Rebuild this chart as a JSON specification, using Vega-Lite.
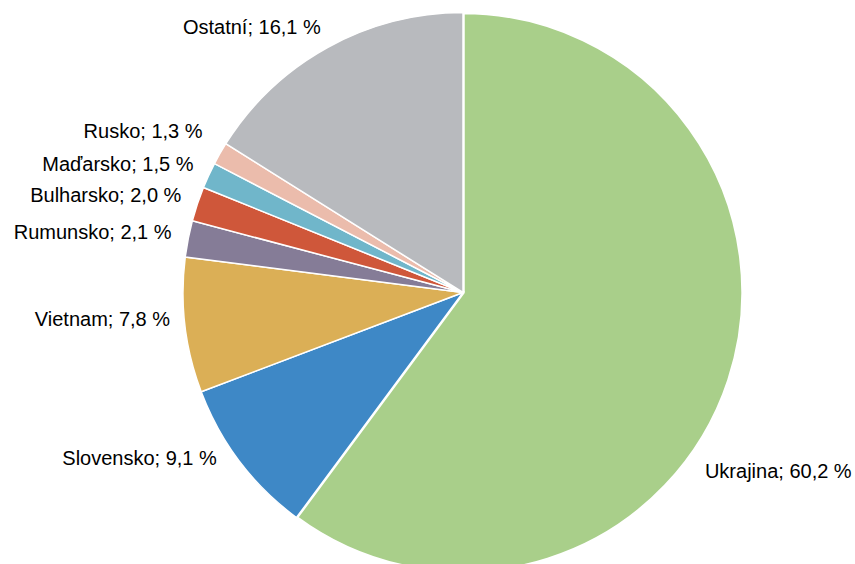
{
  "$schema": "https://vega.github.io/schema/vega-lite/v6.json",
  "autosize": {"type": "none"},
  "width": 784,
  "height": 543,
  "padding": {"left": 71, "right": 0, "top": 21, "bottom": 0},
  "background": "white",
  "view": {"stroke": null},
  "data": {
    "values": [
      {"ord": 1, "country": "Ukrajina", "value": 60.2, "label": "Ukrajina; 60,2 %"},
      {"ord": 2, "country": "Slovensko", "value": 9.1, "label": "Slovensko; 9,1 %"},
      {"ord": 3, "country": "Vietnam", "value": 7.8, "label": "Vietnam; 7,8 %"},
      {"ord": 4, "country": "Rumunsko", "value": 2.1, "label": "Rumunsko; 2,1 %"},
      {"ord": 5, "country": "Bulharsko", "value": 2.0, "label": "Bulharsko; 2,0 %"},
      {"ord": 6, "country": "Maďarsko", "value": 1.5, "label": "Maďarsko; 1,5 %"},
      {"ord": 7, "country": "Rusko", "value": 1.3, "label": "Rusko; 1,3 %"},
      {"ord": 8, "country": "Ostatní", "value": 16.1, "label": "Ostatní; 16,1 %"}
    ]
  },
  "encoding": {
    "theta": {"field": "value", "type": "quantitative", "stack": true},
    "order": {"field": "ord", "type": "quantitative"}
  },
  "layer": [
    {
      "mark": {"type": "arc", "outerRadius": 280, "stroke": "white"},
      "encoding": {
        "color": {
          "field": "country",
          "type": "nominal",
          "sort": null,
          "legend": null,
          "scale": {
            "domain": ["Ukrajina", "Slovensko", "Vietnam", "Rumunsko", "Bulharsko", "Maďarsko", "Rusko", "Ostatní"],
            "range": ["#a9cf8a", "#3e88c6", "#dbaf56", "#857c97", "#cf573a", "#70b6ca", "#ebbcac", "#b8babe"]
          }
        },
        "strokeWidth": {"condition": {"test": "datum.country === 'Ukrajina'", "value": 3.5}, "value": 1.5}
      }
    },
    {
      "mark": {"type": "text", "radius": 300, "align": "right", "baseline": "middle", "dx": 3, "dy": -2, "font": "Liberation Sans", "fontSize": 20, "color": "#000000"},
      "encoding": {
        "text": {"condition": {"test": "indexof(['Ukrajina','Rusko','Vietnam','Slovensko'], datum.country) >= 0", "value": ""}, "field": "label", "type": "nominal"}
      }
    },
    {
      "mark": {"type": "text", "radius": 300, "align": "right", "baseline": "middle", "dy": -12, "font": "Liberation Sans", "fontSize": 20, "color": "#000000"},
      "encoding": {
        "text": {"condition": {"test": "datum.country !== 'Rusko'", "value": ""}, "field": "label", "type": "nominal"}
      }
    },
    {
      "mark": {"type": "text", "radius": 300, "align": "right", "baseline": "middle", "dx": 5, "dy": -8, "font": "Liberation Sans", "fontSize": 20, "color": "#000000"},
      "encoding": {
        "text": {"condition": {"test": "datum.country !== 'Vietnam'", "value": ""}, "field": "label", "type": "nominal"}
      }
    },
    {
      "mark": {"type": "text", "radius": 300, "align": "right", "baseline": "middle", "dx": -7, "dy": -15, "font": "Liberation Sans", "fontSize": 20, "color": "#000000"},
      "encoding": {
        "text": {"condition": {"test": "datum.country !== 'Slovensko'", "value": ""}, "field": "label", "type": "nominal"}
      }
    },
    {
      "mark": {"type": "text", "radius": 300, "align": "left", "baseline": "middle", "dx": -43, "dy": 86, "font": "Liberation Sans", "fontSize": 20, "color": "#000000"},
      "encoding": {
        "text": {"condition": {"test": "datum.country !== 'Ukrajina'", "value": ""}, "field": "label", "type": "nominal"}
      }
    }
  ]
}
